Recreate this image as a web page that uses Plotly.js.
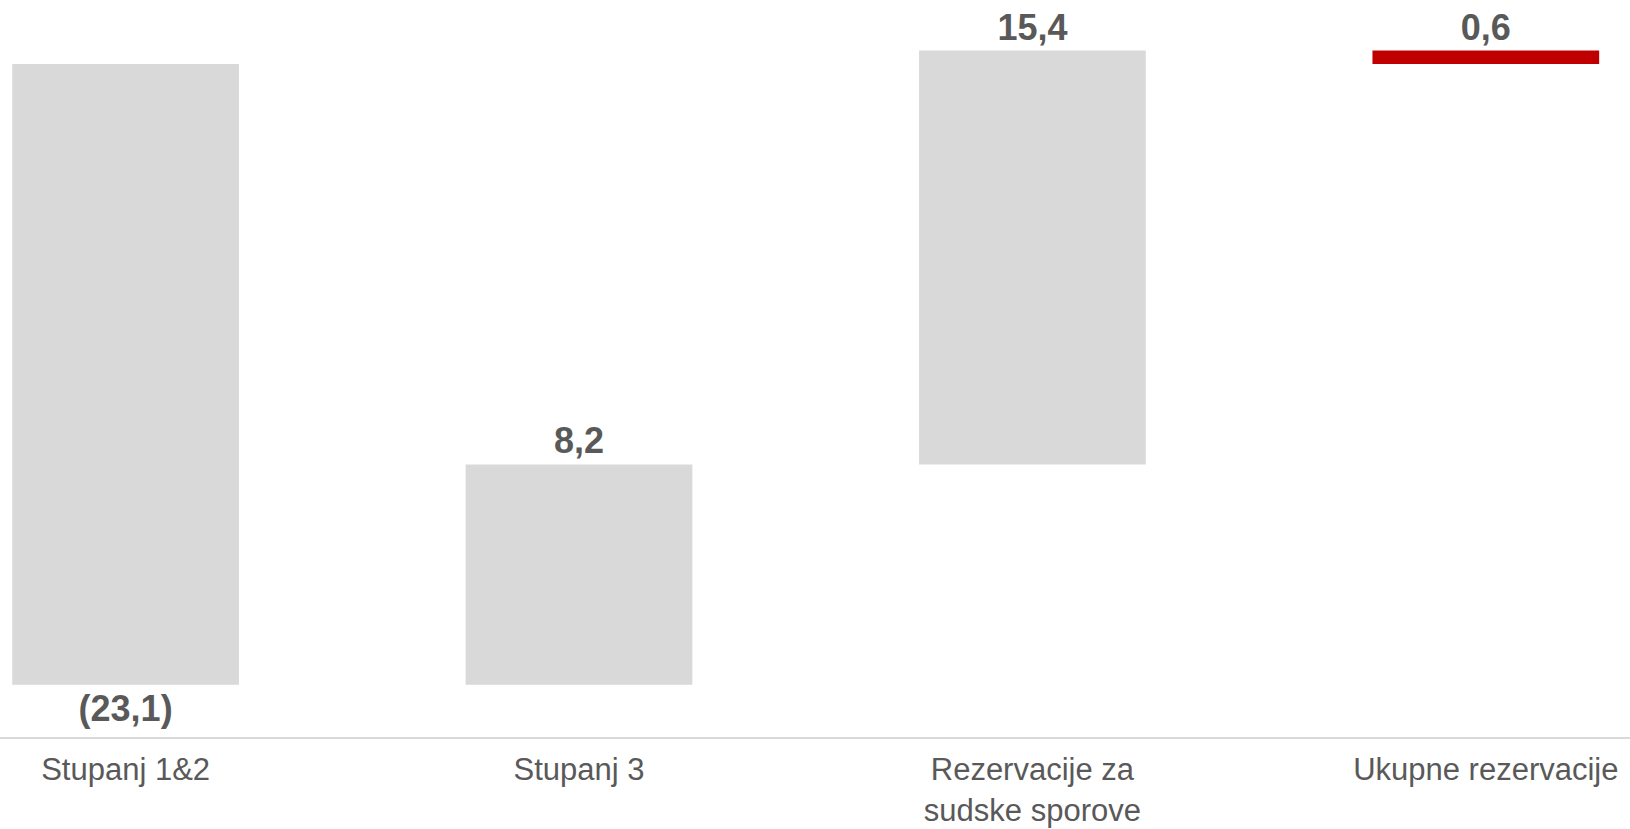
<!DOCTYPE html>
<html>
<head>
<meta charset="utf-8">
<script src="https://cdn.plot.ly/plotly-3.0.1.min.js"></script>
<style>html,body{margin:0;padding:0;background:#fff;}#chart{width:1630px;height:829px;}</style>
</head>
<body>
<div id="chart"></div>
<script>
const categories = ["Stupanj 1&2", "Stupanj 3", "Rezervacije za<br>sudske sporove", "Ukupne rezervacije"];
const values = [-23.1, 8.2, 15.4, 0.6];
const measures = ["relative", "relative", "relative", "total"];
const labels = ["(23,1)", "8,2", "15,4", "0,6"];

const trace = {
  type: "waterfall",
  x: categories,
  y: values,
  measure: measures,
  text: labels,
  textposition: "outside",
  textfont: {family: "Liberation Sans, Arial, sans-serif", size: 36, color: "#595959", weight: "bold"},
  cliponaxis: false,
  width: 0.5,
  increasing: {marker: {color: "#d9d9d9"}},
  decreasing: {marker: {color: "#d9d9d9"}},
  totals: {marker: {color: "#c00000"}},
  connector: {visible: false},
  hoverinfo: "x+y"
};

const layout = {
  width: 1630, height: 829,
  margin: {l: 0, r: 0, t: 0, b: 92},
  paper_bgcolor: "#ffffff",
  plot_bgcolor: "#ffffff",
  showlegend: false,
  xaxis: {
    type: "category",
    range: [-0.277, 3.318],
    showline: true, linecolor: "#d9d9d9", linewidth: 2,
    showgrid: false, zeroline: false,
    ticks: "",
    tickfont: {family: "Liberation Sans, Arial, sans-serif", size: 31, color: "#595959"},
    ticklabelstandoff: 4
  },
  yaxis: {
    range: [-25.04, 2.38],
    visible: false, showgrid: false, zeroline: false
  },
  font: {family: "Liberation Sans, Arial, sans-serif"}
};

Plotly.newPlot("chart", [trace], layout, {displayModeBar: false, staticPlot: true});
</script>
</body>
</html>
